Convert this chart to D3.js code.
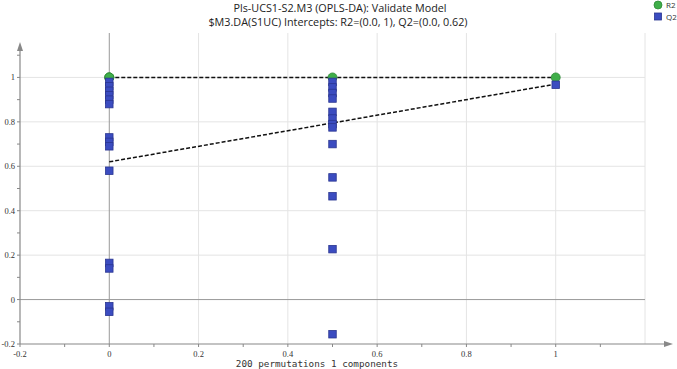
<!DOCTYPE html>
<html>
<head>
<meta charset="utf-8">
<script src="https://cdn.jsdelivr.net/npm/d3@7"></script>
<style>
  body { margin: 0; background: #fff; }
  svg { display: block; }
</style>
</head>
<body>
<div class="container"></div>
<script>
// permutation validation data
var r2X = [0, 0, 0, 0.5, 1];
var r2Y = [1, 1, 1, 1, 1];
var q2X = [0, 0, 0, 0, 0, 0, 0, 0, 0, 0, 0, 0, 0, 0,
           0.5, 0.5, 0.5, 0.5, 0.5, 0.5, 0.5, 0.5, 0.5, 0.5, 0.5, 0.5, 0.5, 1];
var q2Y = [0.98, 0.96, 0.94, 0.92, 0.90, 0.88, 0.73, 0.71, 0.69, 0.58, 0.165, 0.14, -0.03, -0.055,
           0.98, 0.955, 0.93, 0.905, 0.845, 0.815, 0.79, 0.775, 0.70, 0.55, 0.465, 0.227, -0.156, 0.967];
var r2LineX = [0, 1], r2LineY = [1, 1];
var q2LineX = [0, 1], q2LineY = [0.62, 0.97];
var xTicks = [-0.2, 0, 0.2, 0.4, 0.6, 0.8, 1];
var yTicks = [-0.2, 0, 0.2, 0.4, 0.6, 0.8, 1];
var minorTicks = [-0.1, 0.1, 0.3, 0.5, 0.7, 0.9, 1.1];

var titleText = 'Pls-UCS1-S2.M3 (OPLS-DA): Validate Model';
var subtitleText = '$M3.DA(S1UC) Intercepts: R2=(0.0, 1), Q2=(0.0, 0.62)';
var xAxisText = '200 permutations 1 components';

const WIDTH = 677;
const HEIGHT = 369;

var x = d3.scaleLinear().domain([-0.2, 1.2]).range([20, 645]);
var y = d3.scaleLinear().domain([-0.2, 1.2]).range([344, 33]);

var svg = d3.select('.container').append('svg')
    .attr('width', WIDTH)
    .attr('height', HEIGHT);

// grid
var grid = svg.append('g');
grid.selectAll('.gx').data([0.2, 0.4, 0.6, 0.8, 1, 1.2]).enter().append('line')
    .attr('x1', d => x(d)).attr('x2', d => x(d))
    .attr('y1', y(1.2)).attr('y2', y(-0.2))
    .attr('stroke', '#e4e4e4').attr('stroke-width', 1);
grid.selectAll('.gy').data([0.2, 0.4, 0.6, 0.8, 1]).enter().append('line')
    .attr('x1', x(-0.2)).attr('x2', x(1.2))
    .attr('y1', d => y(d)).attr('y2', d => y(d))
    .attr('stroke', '#e4e4e4').attr('stroke-width', 1);
// zero lines
grid.append('line')
    .attr('x1', x(0)).attr('x2', x(0)).attr('y1', y(1.2)).attr('y2', y(-0.2))
    .attr('stroke', '#999').attr('stroke-width', 1);
grid.append('line')
    .attr('x1', x(-0.2)).attr('x2', x(1.2)).attr('y1', y(0)).attr('y2', y(0))
    .attr('stroke', '#999').attr('stroke-width', 1);

var fmt = d => String(d);

// axes
var axisColor = '#888';
var xAxis = svg.append('g').attr('transform', 'translate(0,' + y(-0.2) + ')');
xAxis.append('line').attr('x1', x(-0.2)).attr('x2', 664)
    .attr('stroke', axisColor).attr('stroke-width', 1.2);
xAxis.append('path').attr('d', 'M664,-3L673,0L664,3Z').attr('fill', axisColor);
xAxis.selectAll('.tk').data(xTicks.concat(minorTicks)).enter().append('line')
    .attr('x1', d => x(d)).attr('x2', d => x(d)).attr('y1', 0).attr('y2', 3)
    .attr('stroke', axisColor);
xAxis.selectAll('.lb').data(xTicks).enter().append('text')
    .attr('x', d => x(d)).attr('y', 13)
    .attr('text-anchor', 'middle')
    .attr('font-family', 'Liberation Serif')
    .attr('font-size', 8.5)
    .attr('fill', '#333')
    .text(fmt);

var yAxis = svg.append('g').attr('transform', 'translate(' + x(-0.2) + ',0)');
yAxis.append('line').attr('y1', y(-0.2)).attr('y2', 50)
    .attr('stroke', axisColor).attr('stroke-width', 1.2);
yAxis.append('path').attr('d', 'M-3,51L0,42L3,51Z').attr('fill', axisColor);
yAxis.selectAll('.tk').data(yTicks.concat(minorTicks)).enter().append('line')
    .attr('y1', d => y(d)).attr('y2', d => y(d)).attr('x1', -3).attr('x2', 0)
    .attr('stroke', axisColor);
yAxis.selectAll('.lb').data(yTicks).enter().append('text')
    .attr('x', -5).attr('y', d => y(d) + 3)
    .attr('text-anchor', 'end')
    .attr('font-family', 'Liberation Serif')
    .attr('font-size', 8.5)
    .attr('fill', '#333')
    .text(fmt);

// regression lines
var line = d3.line().x(d => x(d[0])).y(d => y(d[1]));
svg.append('path')
    .attr('d', line(d3.zip(r2LineX, r2LineY)))
    .attr('fill', 'none').attr('stroke', '#111').attr('stroke-width', 1.5)
    .attr('stroke-dasharray', '4,2');
svg.append('path')
    .attr('d', line(d3.zip(q2LineX, q2LineY)))
    .attr('fill', 'none').attr('stroke', '#111').attr('stroke-width', 1.5)
    .attr('stroke-dasharray', '4,2');

// points
svg.selectAll('.r2').data(d3.zip(r2X, r2Y)).enter().append('circle')
    .attr('cx', d => x(d[0])).attr('cy', d => y(d[1])).attr('r', 4.5)
    .attr('fill', '#3fae49').attr('stroke', '#2d8a36').attr('stroke-width', 0.8);

var sq = 7.5;
svg.selectAll('.q2').data(d3.zip(q2X, q2Y)).enter().append('rect')
    .attr('x', d => x(d[0]) - sq / 2).attr('y', d => y(d[1]) - sq / 2)
    .attr('width', sq).attr('height', sq)
    .attr('fill', '#3b4cc0').attr('stroke', '#2a3590').attr('stroke-width', 0.8);

// titles
svg.append('text').attr('x', 340).attr('y', 11.5)
    .attr('text-anchor', 'middle')
    .attr('font-family', 'Open Sans').attr('font-size', 10.8).attr('fill', '#222')
    .text(titleText);
svg.append('text').attr('x', 338).attr('y', 26)
    .attr('text-anchor', 'middle')
    .attr('font-family', 'Open Sans').attr('font-size', 10.8).attr('fill', '#222')
    .text(subtitleText);
svg.append('text').attr('x', 317).attr('y', 367)
    .attr('text-anchor', 'middle')
    .attr('font-family', 'DejaVu Sans Mono').attr('font-size', 9.3).attr('fill', '#333')
    .text(xAxisText);

// legend
var legend = svg.append('g');
legend.append('circle').attr('cx', 658).attr('cy', 5).attr('r', 4)
    .attr('fill', '#3fae49').attr('stroke', '#2d8a36').attr('stroke-width', 0.8);
legend.append('rect').attr('x', 654.5).attr('y', 13).attr('width', 7).attr('height', 7)
    .attr('fill', '#3b4cc0').attr('stroke', '#2a3590').attr('stroke-width', 0.8);
legend.append('text').attr('x', 666).attr('y', 8)
    .attr('font-family', 'Open Sans').attr('font-size', 8).attr('fill', '#333').text('R2');
legend.append('text').attr('x', 666).attr('y', 20)
    .attr('font-family', 'Open Sans').attr('font-size', 8).attr('fill', '#333').text('Q2');
</script>
</body>
</html>
